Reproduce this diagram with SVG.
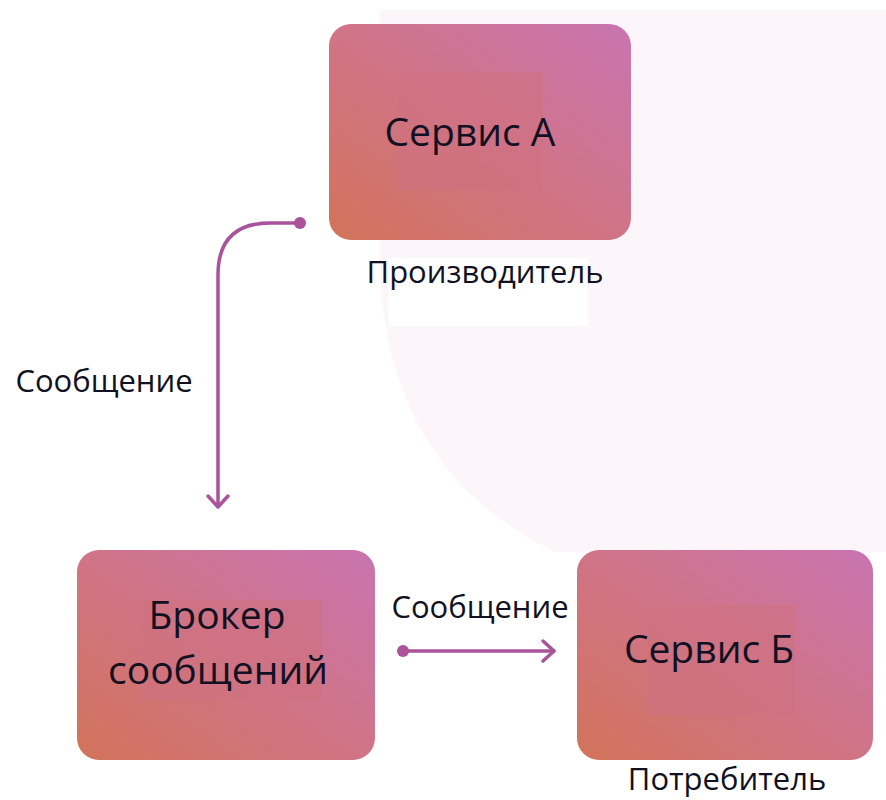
<svg xmlns="http://www.w3.org/2000/svg" width="886" height="800" viewBox="0 0 886 800">
<style>
.lbl{font-family:"Open Sans","Noto Sans","Liberation Sans",sans-serif;fill:#111122}
.big{font-size:39px}
.small{font-size:31px}
.conn{fill:none;stroke:#a9539a;stroke-width:3.5;stroke-linecap:round;stroke-linejoin:round}
</style>
<defs>
<linearGradient id="g" x1="0" y1="1" x2="1" y2="0">
<stop offset="0" stop-color="#d2735a"/>
<stop offset="0.5" stop-color="#d07487"/>
<stop offset="1" stop-color="#c974b1"/>
</linearGradient>
</defs>
<rect width="886" height="800" fill="#ffffff"/>
<path d="M380,10 L886,10 L886,552 L555,552 C450,500 380,410 380,250 Z" fill="#fcf5f9"/>
<rect x="388" y="258" width="200" height="68" fill="#ffffff"/>

<g id="service-a">
<rect x="329" y="24" width="302" height="216" rx="22" fill="url(#g)"/>
<rect x="398" y="72" width="145" height="118" fill="#cf7280" opacity="0.6"/>
<text class="lbl big" x="470" y="146" text-anchor="middle">Сервис А</text>
<text class="lbl small" x="485" y="283" text-anchor="middle">Производитель</text>
</g>

<g id="broker">
<rect x="77" y="550" width="298" height="210" rx="22" fill="url(#g)"/>
<rect x="140" y="600" width="182" height="100" fill="#cf7280" opacity="0.6"/>
<text class="lbl big" x="217" y="629" text-anchor="middle">Брокер</text>
<text class="lbl big" x="218" y="684" text-anchor="middle">сообщений</text>
</g>

<g id="service-b">
<rect x="577" y="550" width="296" height="210" rx="22" fill="url(#g)"/>
<rect x="648" y="605" width="147" height="110" fill="#cf7280" opacity="0.6"/>
<text class="lbl big" x="709" y="663" text-anchor="middle">Сервис Б</text>
<text class="lbl small" x="727" y="790" text-anchor="middle">Потребитель</text>
</g>

<g id="connectors">
<path class="conn" d="M300,223 L270,223 Q218,223 218,275 L218,506"/>
<circle cx="300" cy="223" r="6" fill="#a9539a"/>
<path class="conn" d="M208,496 L218,507 L228,496"/>
<path class="conn" d="M403,651 L554,651"/>
<circle cx="403" cy="651" r="6" fill="#a9539a"/>
<path class="conn" d="M543,641 L554,651 L543,661"/>
<text class="lbl small" x="104" y="392" text-anchor="middle">Сообщение</text>
<text class="lbl small" x="480" y="618" text-anchor="middle">Сообщение</text>
</g>
</svg>
